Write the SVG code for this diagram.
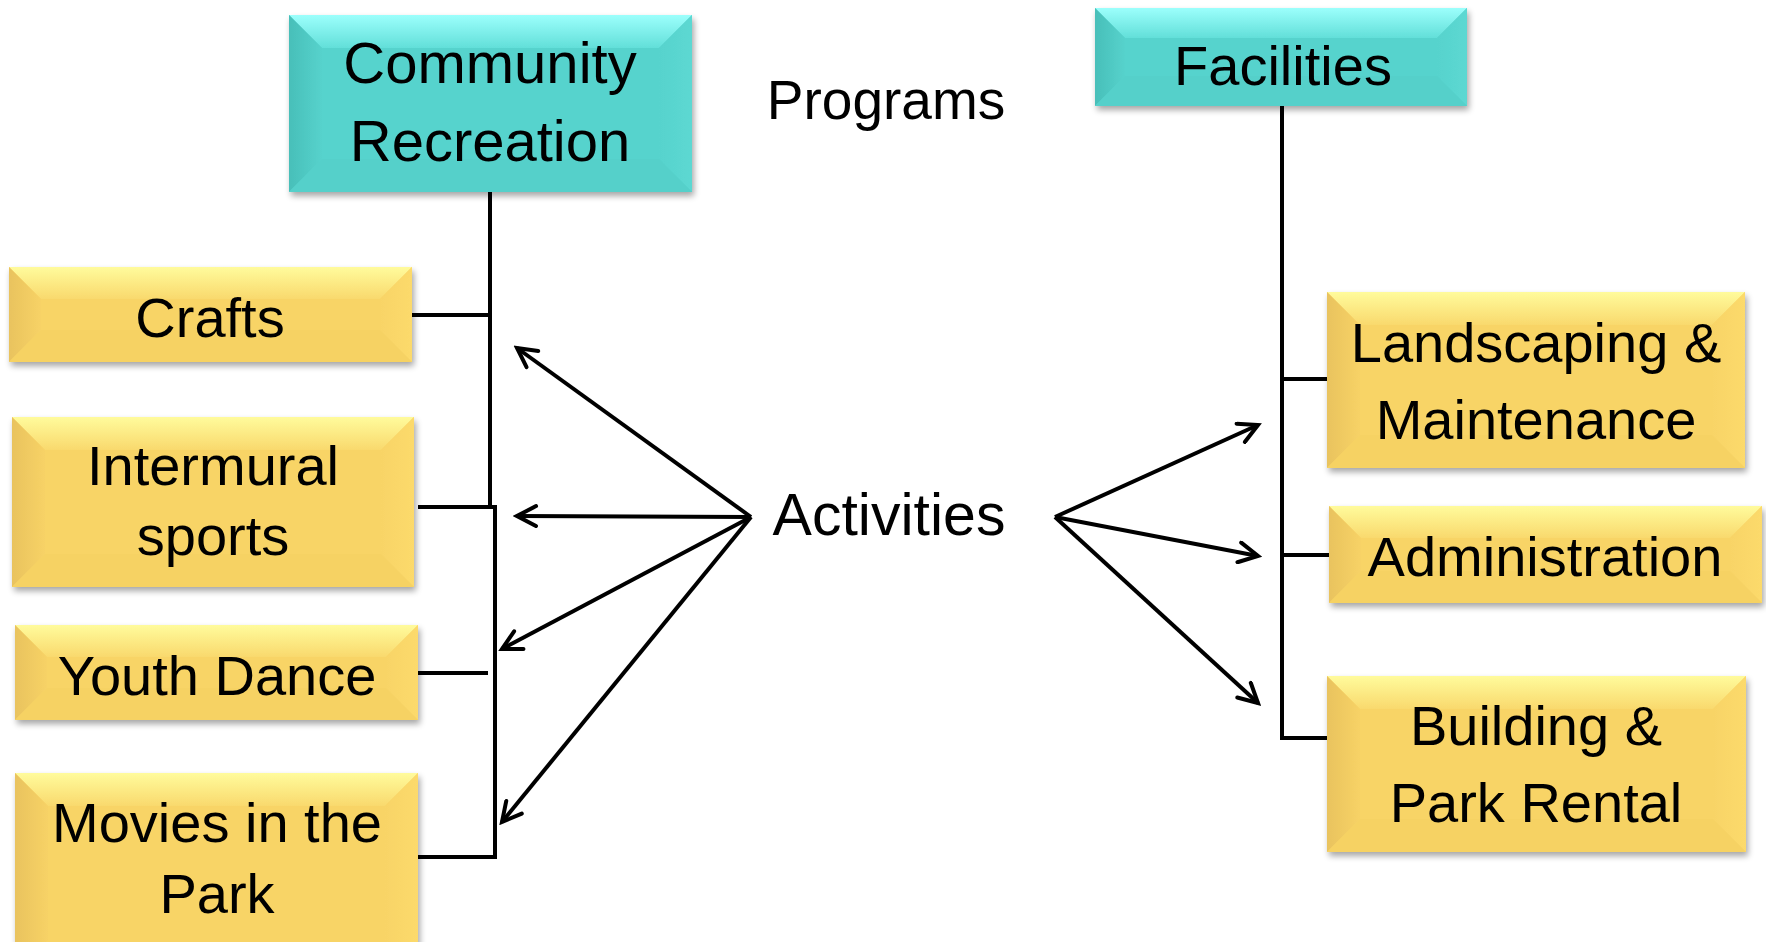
<svg xmlns="http://www.w3.org/2000/svg" width="1766" height="942" viewBox="0 0 1766 942">
<style>
text{font-family:"Liberation Sans",Arial,sans-serif;font-size:56px;fill:#000;text-anchor:middle}
.ln{fill:none;stroke:#000;stroke-width:4}
.ar{fill:none;stroke:#000;stroke-width:4;marker-end:url(#ah)}
</style>
<defs>
<filter id="sh" x="-10%" y="-10%" width="130%" height="140%">
<feGaussianBlur in="SourceAlpha" stdDeviation="3"/>
<feOffset dx="2" dy="4" result="b"/>
<feComponentTransfer><feFuncA type="linear" slope="0.35"/></feComponentTransfer>
<feMerge><feMergeNode/><feMergeNode in="SourceGraphic"/></feMerge>
</filter>
<linearGradient id="yTop" x1="0" y1="0" x2="0" y2="1">
<stop offset="0" stop-color="#FFFB9C"/><stop offset="1" stop-color="#F9D96D"/>
</linearGradient>
<linearGradient id="yLeft" x1="0" y1="0" x2="1" y2="0">
<stop offset="0" stop-color="#E9C35E"/><stop offset="1" stop-color="#F7D266"/>
</linearGradient>
<linearGradient id="yRight" x1="0" y1="0" x2="1" y2="0">
<stop offset="0" stop-color="#F8D466"/><stop offset="1" stop-color="#FCDA6C"/>
</linearGradient>
<linearGradient id="tTop" x1="0" y1="0" x2="0" y2="1">
<stop offset="0" stop-color="#9CFFFC"/><stop offset="1" stop-color="#62DFD9"/>
</linearGradient>
<linearGradient id="tLeft" x1="0" y1="0" x2="1" y2="0">
<stop offset="0" stop-color="#48BFB9"/><stop offset="1" stop-color="#56D2CC"/>
</linearGradient>
<linearGradient id="tRight" x1="0" y1="0" x2="1" y2="0">
<stop offset="0" stop-color="#57D3CD"/><stop offset="1" stop-color="#5CD8D2"/>
</linearGradient>
<marker id="ah" viewBox="-22 -12 26 24" refX="0" refY="0" markerWidth="26" markerHeight="24" markerUnits="userSpaceOnUse" orient="auto">
<path d="M-19,-10 L0,0 L-19,10" fill="none" stroke="#000" stroke-width="4" stroke-linecap="round" stroke-linejoin="miter"/>
</marker>
</defs>
<rect width="1766" height="942" fill="#fff"/>

<g id="connectors">
<path class="ln" d="M490 192 V507"/>
<path class="ln" d="M412 315 H490"/>
<path class="ln" d="M418 507 H495 V857 H418"/>
<path class="ln" d="M418 673 H488"/>
<path class="ln" d="M1282 106 V738 H1329"/>
<path class="ln" d="M1282 379 H1329"/>
<path class="ln" d="M1282 555 H1329"/>
<path class="ar" d="M751 517 L517 348"/>
<path class="ar" d="M751 517 L517 516"/>
<path class="ar" d="M751 517 L502 649"/>
<path class="ar" d="M751 517 L502 822"/>
<path class="ar" d="M1055 517 L1258 425"/>
<path class="ar" d="M1055 517 L1258 556"/>
<path class="ar" d="M1055 517 L1258 703"/>
</g>

<g id="community-recreation" filter="url(#sh)">
<rect x="289" y="15" width="403" height="177" fill="#57D3CD"/>
<polygon points="289,15 692,15 659,48 322,48" fill="url(#tTop)"/>
<polygon points="289,15 322,48 322,159 289,192" fill="url(#tLeft)"/>
<polygon points="692,15 692,192 659,159 659,48" fill="url(#tRight)"/>
<polygon points="289,192 322,159 659,159 692,192" fill="#54D0CA"/>
<text x="490" y="83" style="font-size:58px">Community</text>
<text x="490" y="161" style="font-size:58px">Recreation</text>
</g>

<g id="facilities" filter="url(#sh)">
<rect x="1095" y="8" width="372" height="98" fill="#57D3CD"/>
<polygon points="1095,8 1467,8 1437,38 1125,38" fill="url(#tTop)"/>
<polygon points="1095,8 1125,38 1125,76 1095,106" fill="url(#tLeft)"/>
<polygon points="1467,8 1467,106 1437,76 1437,38" fill="url(#tRight)"/>
<polygon points="1095,106 1125,76 1437,76 1467,106" fill="#54D0CA"/>
<text x="1283" y="85">Facilities</text>
</g>

<g id="programs"><text x="886" y="119" style="font-size:55px">Programs</text></g>
<g id="activities"><text x="889" y="535" style="font-size:59px">Activities</text></g>

<g id="crafts" filter="url(#sh)">
<rect x="9" y="267" width="403" height="95" fill="#F8D466"/>
<polygon points="9,267 412,267 380,299 41,299" fill="url(#yTop)"/>
<polygon points="9,267 41,299 41,330 9,362" fill="url(#yLeft)"/>
<polygon points="412,267 412,362 380,330 380,299" fill="url(#yRight)"/>
<polygon points="9,362 41,330 380,330 412,362" fill="#F6D264"/>
<text x="210" y="337">Crafts</text>
</g>

<g id="intermural-sports" filter="url(#sh)">
<rect x="12" y="417" width="402" height="170" fill="#F8D466"/>
<polygon points="12,417 414,417 381,450 45,450" fill="url(#yTop)"/>
<polygon points="12,417 45,450 45,554 12,587" fill="url(#yLeft)"/>
<polygon points="414,417 414,587 381,554 381,450" fill="url(#yRight)"/>
<polygon points="12,587 45,554 381,554 414,587" fill="#F6D264"/>
<text x="213" y="485">Intermural</text>
<text x="213" y="555">sports</text>
</g>

<g id="youth-dance" filter="url(#sh)">
<rect x="15" y="625" width="403" height="95" fill="#F8D466"/>
<polygon points="15,625 418,625 386,657 47,657" fill="url(#yTop)"/>
<polygon points="15,625 47,657 47,688 15,720" fill="url(#yLeft)"/>
<polygon points="418,625 418,720 386,688 386,657" fill="url(#yRight)"/>
<polygon points="15,720 47,688 386,688 418,720" fill="#F6D264"/>
<text x="217" y="695">Youth Dance</text>
</g>

<g id="movies-in-the-park" filter="url(#sh)">
<rect x="15" y="773" width="403" height="200" fill="#F8D466"/>
<polygon points="15,773 418,773 385,806 48,806" fill="url(#yTop)"/>
<polygon points="15,773 48,806 48,940 15,973" fill="url(#yLeft)"/>
<polygon points="418,773 418,973 385,940 385,806" fill="url(#yRight)"/>
<text x="217" y="842">Movies in the</text>
<text x="217" y="913">Park</text>
</g>

<g id="landscaping-maintenance" filter="url(#sh)">
<rect x="1327" y="292" width="418" height="176" fill="#F8D466"/>
<polygon points="1327,292 1745,292 1712,325 1360,325" fill="url(#yTop)"/>
<polygon points="1327,292 1360,325 1360,435 1327,468" fill="url(#yLeft)"/>
<polygon points="1745,292 1745,468 1712,435 1712,325" fill="url(#yRight)"/>
<polygon points="1327,468 1360,435 1712,435 1745,468" fill="#F6D264"/>
<text x="1536" y="362">Landscaping &amp;</text>
<text x="1536" y="439">Maintenance</text>
</g>

<g id="administration" filter="url(#sh)">
<rect x="1329" y="506" width="433" height="97" fill="#F8D466"/>
<polygon points="1329,506 1762,506 1730,538 1361,538" fill="url(#yTop)"/>
<polygon points="1329,506 1361,538 1361,571 1329,603" fill="url(#yLeft)"/>
<polygon points="1762,506 1762,603 1730,571 1730,538" fill="url(#yRight)"/>
<polygon points="1329,603 1361,571 1730,571 1762,603" fill="#F6D264"/>
<text x="1545" y="576">Administration</text>
</g>

<g id="building-park-rental" filter="url(#sh)">
<rect x="1327" y="676" width="419" height="176" fill="#F8D466"/>
<polygon points="1327,676 1746,676 1713,709 1360,709" fill="url(#yTop)"/>
<polygon points="1327,676 1360,709 1360,819 1327,852" fill="url(#yLeft)"/>
<polygon points="1746,676 1746,852 1713,819 1713,709" fill="url(#yRight)"/>
<polygon points="1327,852 1360,819 1713,819 1746,852" fill="#F6D264"/>
<text x="1536" y="745">Building &amp;</text>
<text x="1536" y="822">Park Rental</text>
</g>
</svg>
